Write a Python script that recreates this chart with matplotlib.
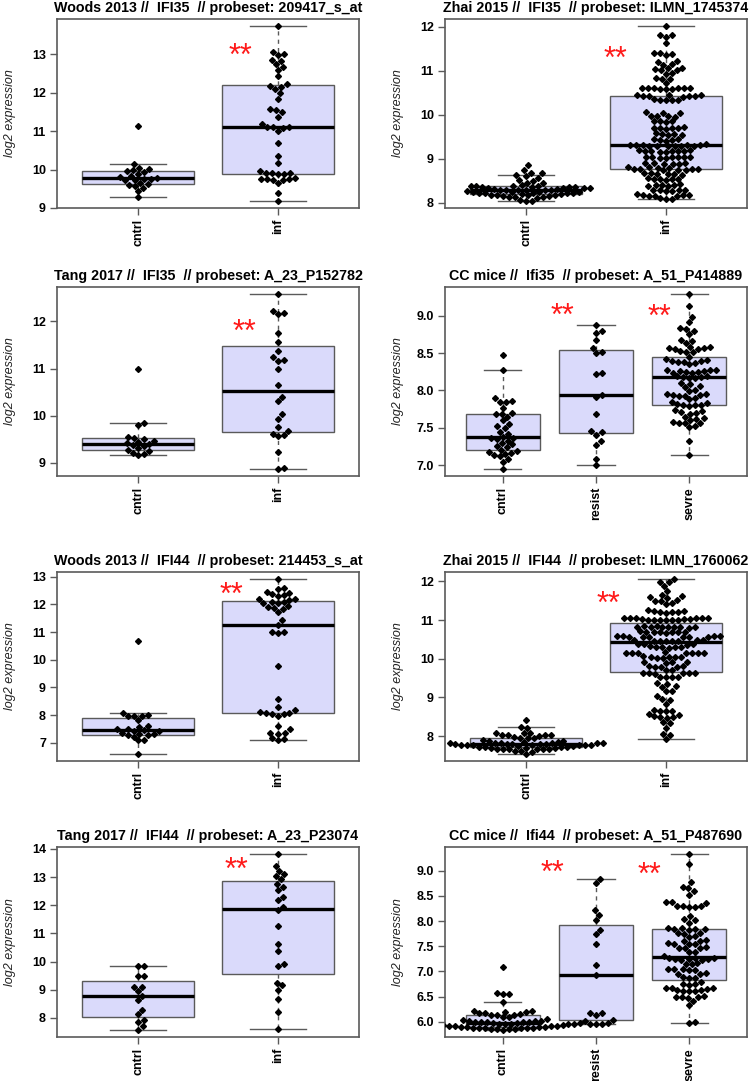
import numpy as np
import matplotlib
matplotlib.use("Agg")
import matplotlib.pyplot as plt
from matplotlib.ticker import MultipleLocator, FormatStrFormatter

plt.rcParams['font.family'] = ['Liberation Sans', 'DejaVu Sans']

# ---------------- data ----------------
TITLES = [
    "Woods 2013 //  IFI35  // probeset: 209417_s_at",
    "Zhai 2015 //  IFI35  // probeset: ILMN_1745374",
    "Tang 2017 //  IFI35  // probeset: A_23_P152782",
    "CC mice //  Ifi35  // probeset: A_51_P414889",
    "Woods 2013 //  IFI44  // probeset: 214453_s_at",
    "Zhai 2015 //  IFI44  // probeset: ILMN_1760062",
    "Tang 2017 //  IFI44  // probeset: A_23_P23074",
    "CC mice //  Ifi44  // probeset: A_51_P487690",
]
GROUPS_HUMAN = ["cntrl", "inf"]
GROUPS_MICE = ["cntrl", "resist", "sevre"]
Y_LABEL = "log2 expression"

P1_CNTRL = [9.28, 9.45, 9.52, 9.58, 9.60, 9.62, 9.65, 9.72, 9.74, 9.76, 9.76, 9.78, 9.80, 9.84,
            9.88, 9.93, 9.96, 9.98, 10.02, 10.05, 10.15, 11.13]
P1_INF = [9.18, 9.39, 9.65, 9.73, 9.74, 9.75, 9.76, 9.76, 9.77, 9.88, 9.89, 9.90, 9.91, 9.92, 9.96,
          10.16, 10.36, 10.69, 11.00, 11.09, 11.10, 11.11, 11.12, 11.18, 11.38, 11.50, 11.55, 11.57,
          11.85, 12.00, 12.10, 12.15, 12.18, 12.22, 12.43, 12.60, 12.66, 12.75, 12.83, 12.85, 12.98,
          13.02, 13.06, 13.74]

P2_CNTRL = [8.04, 8.05, 8.06, 8.11, 8.12, 8.12, 8.13, 8.16, 8.16, 8.17, 8.17, 8.18, 8.18, 8.19, 8.19,
            8.22, 8.22, 8.23, 8.23, 8.23, 8.24, 8.24, 8.25, 8.25, 8.26, 8.28, 8.28, 8.29, 8.29, 8.30,
            8.30, 8.31, 8.31, 8.33, 8.33, 8.34, 8.34, 8.35, 8.35, 8.36, 8.36, 8.37, 8.37, 8.38, 8.39,
            8.40, 8.44, 8.46, 8.50, 8.52, 8.57, 8.61, 8.63, 8.67, 8.68, 8.74, 8.85]
P2_INF = [8.08, 8.09, 8.10, 8.15, 8.16, 8.16, 8.17, 8.17, 8.18, 8.19, 8.26, 8.27, 8.28, 8.28,
          8.29, 8.30, 8.38, 8.39, 8.40, 8.41, 8.41, 8.42, 8.52, 8.53, 8.54, 8.54, 8.55,
          8.56, 8.64, 8.65, 8.66, 8.66, 8.67, 8.68, 8.74, 8.75, 8.75, 8.76, 8.76, 8.77, 8.77,
          8.80, 8.80, 8.81, 8.81, 8.89, 8.89, 8.90, 8.90, 8.91, 8.88,
          9.01, 9.02, 9.03, 9.03, 9.04, 9.04, 9.05, 9.05, 9.15, 9.16, 9.17, 9.17, 9.17,
          9.18, 9.18, 9.19, 9.19, 9.28, 9.28, 9.29, 9.29, 9.30, 9.30, 9.31, 9.31, 9.31, 9.32, 9.32, 9.33,
          9.41, 9.43, 9.43, 9.45, 9.45, 9.54, 9.55, 9.56, 9.56,
          9.58, 9.68, 9.70, 9.70, 9.71, 9.71, 9.72, 9.84, 9.85, 9.86, 9.86,
          9.96, 9.97, 9.98, 9.98, 10.04, 10.05, 10.06, 10.33, 10.33, 10.34, 10.34,
          10.35, 10.41, 10.42, 10.42, 10.43, 10.43, 10.44, 10.44, 10.45,
          10.58, 10.59, 10.59, 10.60, 10.60, 10.61, 10.61, 10.62, 10.62, 10.72, 10.81, 10.82, 10.83,
          10.93, 10.95, 11.01, 11.03, 11.05, 11.06, 11.07, 11.14, 11.16, 11.21, 11.23, 11.37, 11.39,
          11.40, 11.41, 11.63, 11.78, 11.81, 11.82, 12.02]

P3_CNTRL = [9.16, 9.19, 9.21, 9.26, 9.28, 9.31, 9.35, 9.38, 9.40, 9.42, 9.44, 9.47, 9.50, 9.52,
            9.55, 9.80, 9.84, 11.00]
P3_INF = [8.87, 8.89, 9.23, 9.56, 9.59, 9.62, 9.67, 9.75, 9.93, 10.03, 10.31, 10.40, 10.66, 10.98,
          11.17, 11.19, 11.25, 11.38, 11.56, 11.75, 12.16, 12.18, 12.22, 12.58]

P4_CNTRL = [6.95, 7.05, 7.08, 7.12, 7.14, 7.15, 7.16, 7.18, 7.19, 7.21, 7.25, 7.26, 7.28, 7.30, 7.33,
            7.35, 7.36, 7.37, 7.38, 7.42, 7.45, 7.50, 7.52, 7.55, 7.60, 7.65, 7.68, 7.69, 7.70, 7.77,
            7.84, 7.85, 7.86, 7.90, 8.27, 8.47]
P4_RESIST = [7.01, 7.09, 7.27, 7.32, 7.41, 7.44, 7.46, 7.68, 7.91, 7.94, 8.22, 8.24, 8.50, 8.52,
             8.57, 8.68, 8.77, 8.80, 8.87]
P4_SEVRE = [7.14, 7.32, 7.51, 7.53, 7.56, 7.57, 7.57, 7.58, 7.60, 7.62, 7.63, 7.65, 7.69, 7.70, 7.71,
            7.72, 7.74, 7.79, 7.80, 7.80, 7.81, 7.82, 7.83, 7.84, 7.88, 7.90, 7.93, 7.93, 7.94, 7.94,
            7.95, 7.95, 7.99, 8.01, 8.04, 8.06, 8.08, 8.10, 8.17, 8.17, 8.18, 8.18, 8.19, 8.19, 8.24,
            8.24, 8.25, 8.25, 8.26, 8.26, 8.27, 8.27, 8.28, 8.35, 8.37, 8.38, 8.38, 8.39, 8.40, 8.41,
            8.42, 8.45, 8.51, 8.52, 8.53, 8.56, 8.56, 8.57, 8.57, 8.58, 8.58, 8.64, 8.66, 8.68, 8.75,
            8.80, 8.82, 8.84, 8.91, 8.98, 9.13, 9.29]

P5_CNTRL = [6.59, 7.08, 7.10, 7.22, 7.26, 7.27, 7.32, 7.33, 7.35, 7.42, 7.44, 7.45, 7.48, 7.50, 7.57,
            7.60, 7.82, 7.97, 7.98, 7.98, 8.00, 8.07, 10.67]
P5_INF = [7.08, 7.13, 7.16, 7.33, 7.34, 7.36, 7.48, 7.60, 7.97, 8.02, 8.05, 8.08, 8.09, 8.10, 8.17,
          8.28, 8.58, 9.78, 10.97, 10.99, 11.02, 11.25, 11.42, 11.71, 11.83, 11.86, 11.92, 11.93,
          12.04, 12.06, 12.08, 12.10, 12.17, 12.19, 12.21, 12.32, 12.34, 12.38, 12.43, 12.46, 12.57,
          12.60, 12.92]

P6_CNTRL = [7.54, 7.60, 7.61, 7.62, 7.66, 7.67, 7.67, 7.68, 7.68, 7.68, 7.69, 7.69, 7.70,
            7.71, 7.72, 7.73, 7.73, 7.74, 7.75, 7.76, 7.76, 7.77, 7.77, 7.77, 7.78,
            7.78, 7.79, 7.80, 7.80, 7.81, 7.81, 7.82, 7.82, 7.82, 7.82, 7.83, 7.83, 7.84, 7.84, 7.87,
            7.88, 7.89, 7.95, 7.96, 7.96, 7.97, 8.01, 8.02, 8.02, 8.03, 8.03, 8.07, 8.08, 8.09, 8.21,
            8.23, 8.42]
P6_INF = [7.92, 8.03, 8.05, 8.22, 8.34, 8.36, 8.48, 8.49, 8.50, 8.51, 8.56, 8.58, 8.65, 8.66, 8.66,
          8.67, 8.83, 8.93, 8.95, 9.04, 9.16, 9.18, 9.27, 9.29, 9.35, 9.37, 9.52, 9.53, 9.53, 9.54,
          9.61, 9.62, 9.62, 9.62, 9.63, 9.63, 9.70, 9.72, 9.79, 9.80, 9.80, 9.81, 9.81, 9.90, 9.91,
          9.91, 9.92, 10.03, 10.03, 10.04, 10.04, 10.05, 10.05, 10.06, 10.14, 10.14, 10.15, 10.15,
          10.15, 10.16, 10.16, 10.17, 10.29, 10.30, 10.30, 10.31, 10.31, 10.32, 10.36, 10.37, 10.37,
          10.38, 10.46, 10.46, 10.47, 10.47, 10.47, 10.48, 10.48, 10.49, 10.55, 10.56, 10.56, 10.57,
          10.57, 10.57, 10.58, 10.58, 10.59, 10.59, 10.67, 10.68, 10.68, 10.69, 10.69, 10.70, 10.70,
          10.71, 10.80, 10.81, 10.81, 10.82, 10.82, 10.82, 10.83, 10.83, 10.84, 10.85, 10.99, 10.99,
          11.00, 11.00, 11.01, 11.01, 11.02, 11.03, 11.03, 11.04, 11.04, 11.05, 11.05, 11.06, 11.06,
          11.19, 11.20, 11.21, 11.22, 11.23, 11.24, 11.25, 11.42, 11.44, 11.49, 11.50, 11.52, 11.57,
          11.59, 11.62, 11.64, 11.74, 11.88, 11.97, 11.99, 12.06]

P7_CNTRL = [7.57, 7.70, 7.85, 7.92, 8.12, 8.28, 8.63, 8.78, 8.95, 9.10, 9.11, 9.49, 9.50, 9.85, 9.86]
P7_INF = [7.60, 8.21, 8.66, 8.99, 9.15, 9.25, 9.85, 9.91, 10.37, 10.61, 11.28, 11.83, 11.93, 12.17,
          12.29, 12.56, 12.65, 12.77, 12.92, 13.04, 13.10, 13.22, 13.39, 13.82]

P8_CNTRL = [5.84, 5.85, 5.85, 5.86, 5.86, 5.87, 5.87, 5.88, 5.88, 5.88, 5.88, 5.89, 5.89, 5.89, 5.90,
            5.91, 5.92, 5.92, 5.92, 5.93, 5.93, 5.95, 5.95, 5.95, 5.96, 5.96, 5.96, 5.96, 5.97, 5.97,
            5.97, 5.99, 5.99, 6.00, 6.00, 6.00, 6.01, 6.01, 6.01, 6.04, 6.05, 6.09, 6.10, 6.13, 6.14,
            6.14, 6.15, 6.17, 6.18, 6.19, 6.20, 6.21, 6.22, 6.39, 6.55, 6.56, 6.57, 7.08]
P8_RESIST = [5.95, 5.95, 5.96, 5.98, 6.02, 6.04, 6.14, 6.17, 6.18, 6.93, 7.13, 7.55, 7.74, 7.82, 8.03,
             8.13, 8.22, 8.75, 8.83]
P8_SEVRE = [5.97, 5.99, 6.33, 6.42, 6.48, 6.49, 6.49, 6.50, 6.51, 6.61, 6.62, 6.62, 6.63, 6.63, 6.66,
            6.67, 6.67, 6.68, 6.74, 6.75, 6.76, 6.80, 6.87, 6.88, 6.89, 6.95, 6.96, 6.97, 7.03, 7.03,
            7.04, 7.04, 7.05, 7.14, 7.15, 7.16, 7.23, 7.23, 7.24, 7.25, 7.25, 7.26, 7.26, 7.27, 7.30,
            7.38, 7.39, 7.46, 7.47, 7.47, 7.48, 7.54, 7.55, 7.55, 7.56, 7.60, 7.61, 7.62, 7.69, 7.71,
            7.75, 7.76, 7.77, 7.83, 7.84, 7.85, 7.85, 7.86, 7.87, 7.97, 8.02, 8.04, 8.10, 8.28, 8.28,
            8.29, 8.30, 8.30, 8.36, 8.37, 8.38, 8.52, 8.60, 8.66, 8.68, 8.77, 9.14, 9.33]

# significance marks ("**") per panel: group-axis position and value
STAR_X = [[1.73], [1.64], [1.76], [1.64, 2.68], [1.67], [1.59], [1.70], [1.53, 2.57]]
STAR_Y = [[13.20], [11.47], [11.97], [9.12, 9.10], [12.65], [11.65], [13.58], [9.12, 9.08]]
Y_STEP = [1, 1, 1, 0.5, 1, 1, 1, 0.5]

PANEL_DATA = [
    [P1_CNTRL, P1_INF], [P2_CNTRL, P2_INF], [P3_CNTRL, P3_INF], [P4_CNTRL, P4_RESIST, P4_SEVRE],
    [P5_CNTRL, P5_INF], [P6_CNTRL, P6_INF], [P7_CNTRL, P7_INF], [P8_CNTRL, P8_RESIST, P8_SEVRE],
]

# ---------------- style / layout ----------------
W, H = 750, 1081
BOX_FILL = "#DADAFB"
EDGE = "#5a5a5a"
AX_PX = [(57, 19, 359, 208), (445, 19, 747, 208),
         (57, 287, 359, 476), (445, 287, 747, 476),
         (57, 572, 359, 761), (445, 572, 747, 761),
         (57, 847, 359, 1037), (445, 847, 747, 1037)]
D_PX = 6.0  # beeswarm point spacing in pixels
STAR_FS = 22


def fivenum(v):
    v = np.sort(np.asarray(v, float))
    n = len(v)
    n4 = np.floor((n + 3) / 2) / 2
    d = np.array([1, n4, (n + 1) / 2, n + 1 - n4, n])
    return 0.5 * (v[np.floor(d).astype(int) - 1] + v[np.ceil(d).astype(int) - 1])


def box_stats(v):
    v = np.asarray(v, float)
    s = fivenum(v)
    iqr = s[3] - s[1]
    inside = v[(v >= s[1] - 1.5 * iqr) & (v <= s[3] + 1.5 * iqr)]
    return dict(med=s[2], q1=s[1], q3=s[3], whislo=inside.min(), whishi=inside.max(), fliers=[])


def swarm_x(ax, values, center, d):
    vals = np.asarray(values, float)
    pts = ax.transData.transform(np.column_stack([np.full(len(vals), center), vals]))
    ys = pts[:, 1]
    cx = pts[0, 0]
    order = np.argsort(ys, kind="stable")
    offs = np.zeros(len(vals))
    placed = []
    for i in order:
        y = ys[i]
        near = [(xo, yo) for xo, yo in placed if abs(yo - y) < d]
        cands = [0.0]
        cands += [xo + np.sqrt(d * d - (yo - y) ** 2) for xo, yo in near]
        cands += [xo - np.sqrt(d * d - (yo - y) ** 2) for xo, yo in near]
        good = [c for c in cands
                if all((c - xo) ** 2 + (yo - y) ** 2 >= d * d - 1e-6 for xo, yo in near)]
        best = min(good, key=abs)
        offs[i] = best
        placed.append((best, y))
    inv = ax.transData.inverted()
    return inv.transform(np.column_stack([cx + offs, ys]))[:, 0]


fig = plt.figure(figsize=(W / 100, H / 100), dpi=100)

for k, groups_data in enumerate(PANEL_DATA):
    l, t, r, b = AX_PX[k]
    ax = fig.add_axes([l / W, 1 - b / H, (r - l) / W, (b - t) / H])
    ng = len(groups_data)
    labels = GROUPS_HUMAN if ng == 2 else GROUPS_MICE
    pos = np.arange(1, ng + 1)

    allv = np.concatenate([np.asarray(g, float) for g in groups_data])
    lo, hi = allv.min(), allv.max()
    pad = 0.04 * (hi - lo)
    ax.set_ylim(lo - pad, hi + pad)
    ax.set_xlim(0.5 - 0.04 * ng, ng + 0.5 + 0.04 * ng)

    stats = [box_stats(g) for g in groups_data]
    ax.bxp(stats, positions=pos, widths=0.8, capwidths=0.4, patch_artist=True,
           showfliers=False,
           boxprops=dict(facecolor=BOX_FILL, edgecolor=EDGE, linewidth=1.0),
           medianprops=dict(color="black", linewidth=2.4, solid_capstyle="butt"),
           whiskerprops=dict(color=EDGE, linewidth=1.0, linestyle=(0, (3, 3))),
           capprops=dict(color=EDGE, linewidth=1.0))

    for p, g in zip(pos, groups_data):
        xs = swarm_x(ax, g, p, D_PX)
        ax.plot(xs, g, linestyle="none", marker="D", markersize=3.0,
                color="black", zorder=4)

    for sx, sy in zip(STAR_X[k], STAR_Y[k]):
        ax.annotate("**", xy=(sx, sy), xytext=(0, -0.58 * STAR_FS), textcoords="offset points",
                    color="#ff1a1a", fontsize=STAR_FS, ha="center", va="baseline", zorder=5)

    ax.yaxis.set_major_locator(MultipleLocator(Y_STEP[k]))
    if Y_STEP[k] < 1:
        ax.yaxis.set_major_formatter(FormatStrFormatter("%.1f"))
    else:
        ax.yaxis.set_major_formatter(FormatStrFormatter("%d"))
    ax.set_xticks(pos)
    ax.set_xticklabels(labels, rotation=90)
    ax.tick_params(axis="both", direction="out", length=5, width=1.0, color=EDGE,
                   labelsize=9, pad=3)
    for lab in ax.get_xticklabels() + ax.get_yticklabels():
        lab.set_fontweight("bold")
    for sp in ax.spines.values():
        sp.set_color(EDGE)
        sp.set_linewidth(1.2)

    ax.set_title(TITLES[k], fontsize=10.3, fontweight="bold", pad=5)
    ax.text(-47 / (r - l), 0.5, Y_LABEL, rotation=90, ha="center", va="center",
            style="italic", fontsize=9, color="#222222", transform=ax.transAxes)

fig.savefig("out.png", dpi=100)
